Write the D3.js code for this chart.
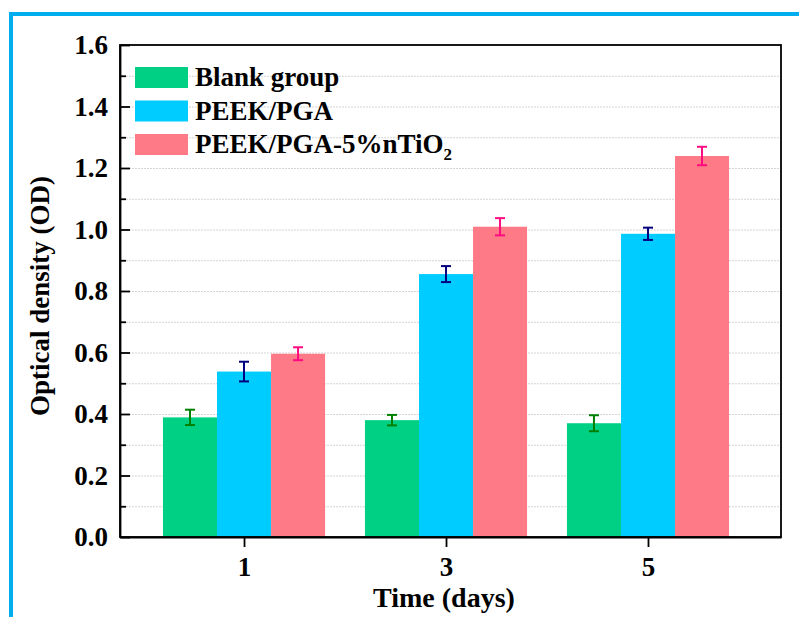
<!DOCTYPE html>
<html lang="en">
<head>
<meta charset="utf-8">
<style>
body { margin: 0; background: #fff; }
svg text { font-family: "Liberation Serif", "Times New Roman", serif; font-weight: bold; fill: #000; }
.grid line { stroke: #d4d4d4; stroke-width: 1; stroke-dasharray: 2,1; }
.grid path { display: none; }
.axis path, .axis line { stroke: #000; stroke-width: 1.8; }
</style>
</head>
<body>
<script src="https://cdn.jsdelivr.net/npm/d3@7"></script>
<svg id="chart" width="799" height="617"></svg>
<script>
// data
var days = [1, 3, 5];
var groups = ["Blank group", "PEEK/PGA", "PEEK/PGA-5%nTiO2"];
var blank = [0.389, 0.380, 0.370];
var blankErr = [0.025, 0.017, 0.026];
var peek = [0.538, 0.855, 0.986];
var peekErr = [0.032, 0.026, 0.020];
var tio2 = [0.596, 1.009, 1.239];
var tio2Err = [0.021, 0.028, 0.030];
var yTicks = [0, 0.2, 0.4, 0.6, 0.8, 1.0, 1.2, 1.4, 1.6];
var yMinor = [0.1, 0.3, 0.5, 0.7, 0.9, 1.1, 1.3, 1.5];

var fills = ["#00d084", "#00ccff", "#ff7a87"];
var errColors = ["#008000", "#000080", "#ff0a80"];

var svg = d3.select("#chart");
var pLeft = 120, pRight = 781, pTop = 45, pBottom = 537;

// blue frame (only top and left edges show)
svg.append("rect")
    .attr("x", 11).attr("y", 14)
    .attr("width", 820).attr("height", 640)
    .attr("fill", "none")
    .attr("stroke", "#00aeef")
    .attr("stroke-width", 4);

var x = d3.scaleLinear().domain([-0.228, 6.317]).range([pLeft, pRight]);
var y = d3.scaleLinear().domain([0, 1.6]).range([pBottom, pTop]);
var barW = x(0.535) - x(0);

// grid every 0.1
svg.append("g")
    .attr("class", "grid")
    .attr("transform", "translate(" + pLeft + ",0)")
    .call(d3.axisLeft(y).tickValues(yMinor.concat(yTicks.slice(1, -1))).tickSize(-(pRight - pLeft)).tickFormat(""));

var series = [
  {name: groups[0], vals: blank, errs: blankErr},
  {name: groups[1], vals: peek, errs: peekErr},
  {name: groups[2], vals: tio2, errs: tio2Err}
];

series.forEach(function(s, si) {
  var g = svg.append("g");
  var off = (si - 1) * barW;
  g.selectAll("rect")
    .data(days)
    .enter().append("rect")
      .attr("x", function(d) { return x(d) + off - barW / 2; })
      .attr("y", function(d, i) { return y(s.vals[i]); })
      .attr("width", barW)
      .attr("height", function(d, i) { return y(0) - y(s.vals[i]); })
      .attr("fill", fills[si]);

  var e = svg.append("g")
      .attr("stroke", errColors[si])
      .attr("stroke-width", 2);
  days.forEach(function(d, i) {
    var cx = x(d) + off, hi = y(s.vals[i] + s.errs[i]), lo = y(s.vals[i] - s.errs[i]);
    e.append("line").attr("x1", cx).attr("x2", cx).attr("y1", hi).attr("y2", lo);
    e.append("line").attr("x1", cx - 5).attr("x2", cx + 5).attr("y1", hi).attr("y2", hi);
    e.append("line").attr("x1", cx - 5).attr("x2", cx + 5).attr("y1", lo).attr("y2", lo);
  });
});

// plot frame
svg.append("rect")
    .attr("x", pLeft).attr("y", pTop)
    .attr("width", pRight - pLeft).attr("height", pBottom - pTop)
    .attr("fill", "none")
    .attr("stroke", "#000")
    .attr("stroke-width", 1.8);

// y axis, major + minor inward ticks
var yAxis = svg.append("g")
    .attr("class", "axis")
    .attr("transform", "translate(" + pLeft + ",0)")
    .call(d3.axisLeft(y).tickValues(yTicks).tickSize(-10).tickSizeOuter(0).tickPadding(12).tickFormat(d3.format(".1f")));
yAxis.selectAll("text").style("font-size", "27px");
svg.append("g")
    .attr("class", "axis")
    .attr("transform", "translate(" + pLeft + ",0)")
    .call(d3.axisLeft(y).tickValues(yMinor).tickSize(-6).tickFormat(""))
    .select("path").remove();

// x axis
var xAxis = svg.append("g")
    .attr("class", "axis")
    .attr("transform", "translate(0," + pBottom + ")")
    .call(d3.axisBottom(x).tickValues(days).tickSize(10).tickSizeOuter(0).tickPadding(10).tickFormat(d3.format("d")));
xAxis.selectAll("text").style("font-size", "27px");

// axis titles
svg.append("text")
    .attr("x", 444).attr("y", 607)
    .attr("text-anchor", "middle")
    .style("font-size", "28px")
    .text("Time (days)");
svg.append("text")
    .attr("transform", "translate(49," + ((pTop + pBottom) / 2 + 5) + ") rotate(-90)")
    .attr("text-anchor", "middle")
    .style("font-size", "27px")
    .text("Optical density (OD)");

// legend
var leg = svg.append("g").attr("transform", "translate(135,67)");
groups.forEach(function(name, i) {
  var row = leg.append("g").attr("transform", "translate(0," + i * 33.5 + ")");
  row.append("rect").attr("width", 53).attr("height", 21).attr("fill", fills[i]);
  var t = row.append("text").attr("x", 60).attr("y", 19).style("font-size", "27px");
  if (name.slice(-1) === "2") {
    t.append("tspan").text(name.slice(0, -1));
    t.append("tspan").attr("dy", 7).style("font-size", "17px").text("2");
  } else {
    t.text(name);
  }
});
</script>
</body>
</html>
